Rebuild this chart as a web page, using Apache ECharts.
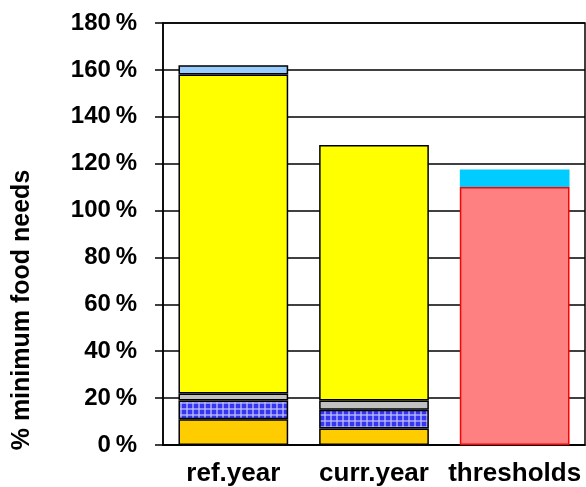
<!DOCTYPE html>
<html>
<head>
<meta charset="utf-8">
<script src="https://cdn.jsdelivr.net/npm/echarts@6/dist/echarts.min.js"></script>
<style>
  html, body { margin: 0; padding: 0; background: #fff; }
  #chart { width: 586px; height: 487px; }
</style>
</head>
<body>
<div id="chart"></div>
<script>
// categories and stacked segment values (% of minimum food needs)
const categories = ['ref.year', 'curr.year', 'thresholds']
const orangePart = [11, 7, '-']
const checkedPart = [8, 8, '-']
const greyPart = [3, 4, '-']
const yellowPart = [136, 109, '-']
const lightBluePart = [4, '-', '-']
const redPart = ['-', '-', 110]
const cyanPart = ['-', '-', 7.5]
const yTicks = [0, 20, 40, 60, 80, 100, 120, 140, 160, 180]

// blue checked fill
const makeCheck = () => {
  const c = document.createElement('canvas')
  c.width = 6
  c.height = 6
  const ctx = c.getContext('2d')
  ctx.fillStyle = '#3636f0'
  ctx.fillRect(0, 0, 6, 6)
  ctx.fillStyle = 'rgba(190, 190, 255, 0.65)'
  ctx.fillRect(0, 0, 6, 2)
  ctx.fillRect(0, 0, 2, 6)
  return c
}

const chart = echarts.init(document.getElementById('chart'))
const font = '"Liberation Sans", Arial, sans-serif'

const bar = (data, color, border, bw) => ({
  type: 'bar',
  stack: 'total',
  barWidth: '78%',
  data: data,
  itemStyle: { color: color, borderColor: border, borderWidth: bw }
})

chart.setOption({
  animation: false,
  grid: {
    left: 163, right: 1, top: 23, bottom: 42,
    show: true, borderColor: '#000', borderWidth: 1.5
  },
  xAxis: {
    type: 'category',
    data: categories,
    axisLine: { lineStyle: { color: '#000', width: 1.5 } },
    axisTick: { length: 7, lineStyle: { color: '#000', width: 1.5 } },
    axisLabel: {
      interval: 0, hideOverlap: false,
      color: '#000', fontFamily: font, fontWeight: 'bold', fontSize: 26, margin: 16
    }
  },
  yAxis: {
    type: 'value',
    min: yTicks[0],
    max: yTicks[yTicks.length - 1],
    interval: 20,
    axisLine: { show: true, lineStyle: { color: '#000', width: 1.5 } },
    axisTick: { show: true, length: 8, lineStyle: { color: '#000', width: 1.5 } },
    splitLine: { lineStyle: { color: '#000', width: 1.5 } },
    axisLabel: {
      color: '#000', fontFamily: font, fontWeight: 'bold', fontSize: 24, margin: 26,
      formatter: v => v + '\u2009%'
    }
  },
  graphic: [{
    type: 'text',
    x: 22,
    y: 310,
    rotation: Math.PI / 2,
    style: {
      text: '% minimum food needs',
      fill: '#000',
      font: 'bold 25px ' + font,
      align: 'center',
      verticalAlign: 'middle'
    }
  }],
  series: [
    bar(orangePart, '#ffcc00', '#000', 1.5),
    bar(checkedPart, { image: makeCheck(), repeat: 'repeat' }, '#000', 1.5),
    bar(greyPart, '#c0c0c0', '#000', 1.5),
    bar(yellowPart, '#ffff00', '#000', 1.5),
    bar(lightBluePart, '#99ccff', '#000', 1.5),
    bar(redPart, '#ff8080', '#ff0000', 1.5),
    bar(cyanPart, '#00ccff', '#00ccff', 0)
  ]
})
</script>
</body>
</html>
